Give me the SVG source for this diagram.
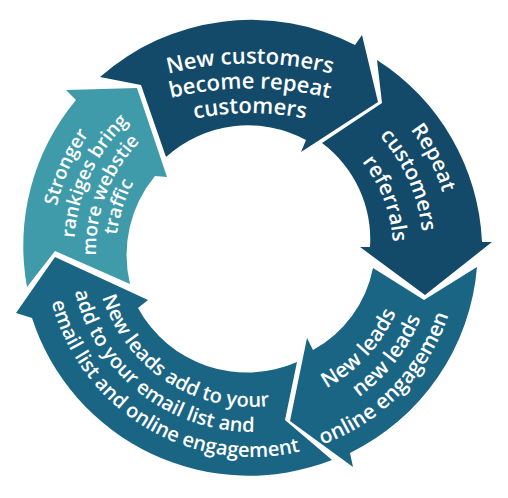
<svg xmlns="http://www.w3.org/2000/svg" width="508" height="498" viewBox="0 0 508 498">
<style>
.navy{fill:#134a6a}
.blue{fill:#1a6584}
.teal{fill:#3f9ba9}
.lbl{fill:#ffffff;font-family:"Open Sans","Noto Sans","DejaVu Sans",sans-serif;font-weight:600;text-anchor:middle}
</style>
<defs>
<path id="pA1" d="M 59.7,305.1 A 200 200 0 0 1 164.3,70.2"/>
<path id="pA2" d="M 80.1,296.1 A 178 178 0 0 1 176.8,88.7"/>
<path id="pA3" d="M 104.5,300.8 A 156 156 0 0 1 176.4,113.6"/>
<path id="pA4" d="M 125.9,300.9 A 136 136 0 0 1 179.9,134.7"/>
<path id="pB1" d="M 150,79 A 330 330 0 0 1 350,79"/>
<path id="pB2" d="M 150,104 A 330 330 0 0 1 350,104"/>
<path id="pB3" d="M 160,128 A 280 280 0 0 1 340,128"/>
<path id="pC1" d="M 329.8,66.8 A 199 199 0 0 1 445.9,294.8"/>
<path id="pC2" d="M 327.0,96.3 A 171 171 0 0 1 416.4,297.1"/>
<path id="pC3" d="M 320.4,126.7 A 141 141 0 0 1 385.3,295.9"/>
<path id="pD1" d="M 272.2,405.7 A 157 157 0 0 0 408.8,257.1"/>
<path id="pD2" d="M 289.8,428.0 A 182 182 0 0 0 433.9,243.6"/>
<path id="pD3" d="M 272.9,455.9 A 207 207 0 0 0 458.4,265.2"/>
<path id="pE1" d="M 95.2,241.8 A 157 157 0 0 0 323.3,389.9"/>
<path id="pE2" d="M 71.8,224.7 A 182 182 0 0 0 320.2,418.7"/>
<path id="pE3" d="M 45.0,246.4 A 207 207 0 0 0 352.4,431.0"/>
</defs>
<rect width="508" height="498" fill="#ffffff"/>
<g id="node-traffic">
<path class="teal" d="M 27,287 A 228 228 0 0 1 76,100 L 66,90 L 137,88 L 167,177 L 155,176 A 124 124 0 0 0 130,284 L 55,251 Z"/>
<text class="lbl" font-size="19"><textPath href="#pA1" startOffset="50%">Stronger</textPath></text>
<text class="lbl" font-size="19"><textPath href="#pA2" startOffset="50%">rankiges bring</textPath></text>
<text class="lbl" font-size="19"><textPath href="#pA3" startOffset="50%">more webstie</textPath></text>
<text class="lbl" font-size="19"><textPath href="#pA4" startOffset="50%">traffic</textPath></text>
</g>
<g id="node-repeat-customers">
<path class="navy" d="M 100,77 A 228 228 0 0 1 355,45 L 362,35 L 378,102 L 301,152 L 306,140 A 122 122 0 0 0 166,157 L 141,85 Z"/>
<text class="lbl" font-size="22"><textPath href="#pB1" startOffset="50%">New customers</textPath></text>
<text class="lbl" font-size="22"><textPath href="#pB2" startOffset="50%">become repeat</textPath></text>
<text class="lbl" font-size="22"><textPath href="#pB3" startOffset="50%">customers</textPath></text>
</g>
<g id="node-referrals">
<path class="navy" d="M 377,60 A 228 228 0 0 1 482,242 L 492,242 L 425,295 L 360,247 L 370,247 A 120 120 0 0 0 322,143 L 382,103 Z"/>
<text class="lbl" font-size="21"><textPath href="#pC1" startOffset="50%">Repeat</textPath></text>
<text class="lbl" font-size="21"><textPath href="#pC2" startOffset="50%">customers</textPath></text>
<text class="lbl" font-size="21"><textPath href="#pC3" startOffset="50%">referrals</textPath></text>
</g>
<g id="node-new-leads">
<path class="blue" d="M 477,267 A 228 228 0 0 1 350,453 L 353,467 L 290,421 L 307,338 L 313,350 A 120 120 0 0 0 373,268 L 424,300 Z"/>
<text class="lbl" font-size="21"><textPath href="#pD1" startOffset="50%">New leads</textPath></text>
<text class="lbl" font-size="21"><textPath href="#pD2" startOffset="50%">new leads</textPath></text>
<text class="lbl" font-size="21"><textPath href="#pD3" startOffset="50%">online engagemen</textPath></text>
</g>
<g id="node-email-list">
<path class="blue" d="M 332,460 A 228 228 0 0 1 32,318 L 16,313 L 55,257 L 148,300 L 138,308 A 124 124 0 0 0 297,362 L 285,420 Z"/>
<text class="lbl" font-size="20"><textPath href="#pE1" startOffset="50%">New leads add to your</textPath></text>
<text class="lbl" font-size="20"><textPath href="#pE2" startOffset="50%">add to your email list and</textPath></text>
<text class="lbl" font-size="20"><textPath href="#pE3" startOffset="50%">email list and online engagement</textPath></text>
</g>
</svg>
